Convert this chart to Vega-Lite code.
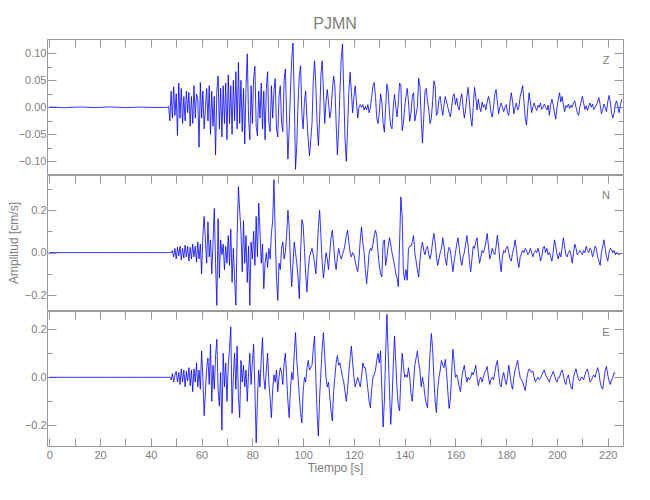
{
"$schema": "https://vega.github.io/schema/vega-lite/v6.json",
"padding": {"left": 7, "top": 15, "right": 5, "bottom": 5},
"spacing": 0,
"data": {"values": [
{"t":0,"Z":0.0005,"N":0,"E":0},{"t":6,"Z":-0.0008,"N":0,"E":0},{"t":12,"Z":0.0006,"N":0,"E":0},{"t":18,"Z":-0.0005,"N":0,"E":0},{"t":24,"Z":0.0008,"N":0,"E":0},{"t":30,"Z":-0.0006,"N":0,"E":0},{"t":36,"Z":0.0004,"N":0,"E":0},{"t":42,"Z":-0.0003,"N":0,"E":0},
{"t":46.5,"Z":0,"N":0,"E":0},{"t":47,"Z":0.002,"N":0,"E":0},{"t":47.5,"Z":-0.025,"N":0.001,"E":0.001},{"t":48,"Z":0.03,"N":-0.002,"E":-0.01},{"t":48.5,"Z":-0.02,"N":0.01,"E":0.015},{"t":49,"Z":0.038,"N":-0.02,"E":-0.02},{"t":49.5,"Z":-0.015,"N":0.02,"E":0.01},{"t":50,"Z":0.025,"N":-0.03,"E":0.025},{"t":50.5,"Z":-0.052,"N":0.025,"E":-0.02},{"t":51,"Z":0.045,"N":-0.015,"E":0.02},{"t":51.5,"Z":-0.02,"N":0.03,"E":-0.03},{"t":52,"Z":0.035,"N":-0.035,"E":0.035},{"t":52.5,"Z":-0.03,"N":0.02,"E":-0.02},{"t":53,"Z":0.02,"N":-0.025,"E":0.03},{"t":53.5,"Z":-0.025,"N":0.035,"E":-0.04},{"t":54,"Z":0.03,"N":-0.02,"E":0.025},{"t":54.5,"Z":-0.01,"N":0.03,"E":-0.015},{"t":55,"Z":0.028,"N":-0.04,"E":0.04},{"t":55.5,"Z":-0.035,"N":0.025,"E":-0.035},{"t":56,"Z":0.02,"N":-0.03,"E":0.03},{"t":56.5,"Z":-0.03,"N":0.04,"E":-0.06},{"t":57,"Z":0.04,"N":-0.02,"E":0.035},{"t":57.5,"Z":-0.02,"N":0.03,"E":-0.02},{"t":58,"Z":0.025,"N":-0.045,"E":0.06},{"t":58.5,"Z":0.015,"N":0.05,"E":-0.04},{"t":59,"Z":-0.074,"N":-0.03,"E":0.03},{"t":59.5,"Z":0.046,"N":0.04,"E":-0.05},{"t":60,"Z":-0.02,"N":-0.1,"E":0.11},{"t":60.5,"Z":0.03,"N":0.08,"E":0},{"t":61,"Z":-0.04,"N":0.17,"E":-0.16},
{"t":62,"Z":0.035,"N":-0.05,"E":0.04},{"t":62.5,"Z":-0.025,"N":0.145,"E":0.08},{"t":63,"Z":0.04,"N":-0.02,"E":-0.03},{"t":63.5,"Z":-0.05,"N":0.06,"E":0.137},{"t":64,"Z":0.03,"N":-0.1,"E":-0.1},{"t":64.5,"Z":-0.035,"N":0.05,"E":0.05},{"t":65,"Z":0.02,"N":0.207,"E":-0.05},{"t":65.5,"Z":-0.088,"N":-0.05,"E":0.09},{"t":66,"Z":0.03,"N":-0.248,"E":0.158},{"t":66.5,"Z":0.058,"N":0.16,"E":-0.05},{"t":67,"Z":-0.04,"N":-0.12,"E":-0.12},{"t":67.5,"Z":0.035,"N":0.06,"E":0.02},{"t":68,"Z":-0.055,"N":-0.01,"E":-0.22},{"t":68.5,"Z":0.04,"N":0.04,"E":0.1},{"t":69,"Z":-0.03,"N":-0.08,"E":-0.04},{"t":69.5,"Z":0.045,"N":0.03,"E":0.06},{"t":70,"Z":-0.06,"N":-0.05,"E":-0.1},{"t":70.5,"Z":0.06,"N":0.08,"E":0.05},{"t":71,"Z":-0.03,"N":-0.06,"E":0.12},{"t":71.5,"Z":0.04,"N":0.11,"E":0.21},{"t":72,"Z":-0.05,"N":-0.14,"E":-0.15},{"t":72.5,"Z":0.05,"N":0.02,"E":0},{"t":73,"Z":-0.025,"N":-0.12,"E":0.1},{"t":73.5,"Z":0.066,"N":-0.248,"E":-0.05},{"t":74,"Z":-0.04,"N":0.08,"E":0.13},{"t":74.5,"Z":0.083,"N":0.31,"E":-0.08},{"t":75,"Z":-0.03,"N":0.2,"E":-0.168},{"t":75.5,"Z":0.05,"N":0.1,"E":0.07},{"t":76,"Z":-0.045,"N":-0.09,"E":-0.02},{"t":76.5,"Z":0.035,"N":0.15,"E":0.05},{"t":77,"Z":-0.068,"N":-0.05,"E":-0.04},{"t":77.5,"Z":0.04,"N":0.08,"E":0.03},{"t":78,"Z":0.099,"N":-0.14,"E":-0.1},{"t":78.5,"Z":-0.02,"N":0.03,"E":0.02},{"t":79,"Z":-0.06,"N":-0.248,"E":0.1},{"t":79.5,"Z":0.04,"N":0.05,"E":-0.03},{"t":80,"Z":-0.03,"N":-0.03,"E":0.06},{"t":80.5,"Z":0.055,"N":0.1,"E":0.137},{"t":81,"Z":0.076,"N":-0.06,"E":-0.05},{"t":81.5,"Z":-0.035,"N":0.17,"E":-0.272},{"t":82,"Z":-0.053,"N":-0.02,"E":-0.09},{"t":82.5,"Z":0.03,"N":0.233,"E":0.03},{"t":83,"Z":-0.02,"N":0.1,"E":-0.04},{"t":83.5,"Z":0.045,"N":-0.05,"E":0.08},{"t":84,"Z":-0.04,"N":0.04,"E":0.165},{"t":84.5,"Z":0.03,"N":-0.17,"E":0},{"t":85,"Z":-0.06,"N":-0.05,"E":-0.05},{"t":85.5,"Z":0.035,"N":0,"E":0.03},{"t":86,"Z":0.066,"N":-0.07,"E":0.1},{"t":86.5,"Z":-0.03,"N":0.02,"E":-0.02},{"t":87,"Z":-0.045,"N":-0.03,"E":-0.09},{"t":87.5,"Z":0.04,"N":0.09,"E":-0.168},{"t":88,"Z":-0.02,"N":0.15,"E":-0.05},{"t":88.5,"Z":0.03,"N":0.343,"E":0.01},{"t":89,"Z":0.053,"N":0.09,"E":-0.02},{"t":89.5,"Z":-0.04,"N":-0.12,"E":0.03},{"t":90,"Z":-0.055,"N":-0.225,"E":-0.06},{"t":90.5,"Z":0.02,"N":-0.05,"E":0},{"t":91,"Z":0.04,"N":-0.08,"E":0.04},{"t":91.5,"Z":-0.03,"N":0.02,"E":0.02},{"t":92,"Z":-0.045,"N":0.05,"E":-0.03},{"t":92.5,"Z":0.05,"N":-0.03,"E":0.06},{"t":93,"Z":0.071,"N":0,"E":0.1},{"t":93.5,"Z":-0.02,"N":0.08,"E":0},{"t":94,"Z":-0.096,"N":0.2,"E":-0.1},{"t":94.5,"Z":-0.04,"N":0.12,"E":-0.168},{"t":95,"Z":0.03,"N":-0.05,"E":-0.05},{"t":95.5,"Z":0.09,"N":-0.16,"E":0.02},{"t":96,"Z":0.119,"N":-0.05,"E":-0.01},{"t":96.5,"Z":0.02,"N":0.05,"E":0.1},{"t":97,"Z":-0.115,"N":0,"E":0.186},{"t":97.5,"Z":-0.07,"N":-0.05,"E":0.07},{"t":98,"Z":0.01,"N":-0.12,"E":0},{"t":98.5,"Z":0.06,"N":-0.217,"E":-0.08},{"t":99,"Z":0.077,"N":0,"E":-0.15},{"t":99.5,"Z":-0.01,"N":0.155,"E":-0.19},{"t":100,"Z":-0.04,"N":0.13,"E":-0.06},{"t":100.5,"Z":0.01,"N":0.02,"E":0},{"t":101,"Z":0.03,"N":-0.1,"E":-0.02},{"t":101.5,"Z":-0.02,"N":-0.185,"E":0.04},{"t":102,"Z":-0.06,"N":-0.08,"E":0.07},{"t":102.5,"Z":-0.09,"N":-0.02,"E":0.03},
{"t":103.5,"Z":-0.03,"N":0.02,"E":0.05},{"t":104,"Z":0.05,"N":-0.01,"E":0.12},{"t":104.5,"Z":0.086,"N":-0.05,"E":0.172},{"t":105,"Z":0.04,"N":-0.1,"E":0},{"t":105.5,"Z":-0.03,"N":0,"E":-0.15},{"t":106,"Z":-0.071,"N":0.12,"E":-0.245},{"t":106.5,"Z":-0.02,"N":0.2,"E":-0.08},{"t":107,"Z":0.06,"N":0.08,"E":0.02},{"t":107.5,"Z":0.086,"N":-0.05,"E":0.12},{"t":108,"Z":0.03,"N":-0.12,"E":0.186},{"t":108.5,"Z":-0.03,"N":-0.06,"E":0.09},{"t":109,"Z":0.01,"N":0,"E":0},{"t":109.5,"Z":0.033,"N":-0.03,"E":-0.04},{"t":110,"Z":0.01,"N":-0.08,"E":-0.02},{"t":110.5,"Z":-0.02,"N":0,"E":-0.08},{"t":111,"Z":-0.005,"N":0.07,"E":-0.14},{"t":111.5,"Z":0.03,"N":0.105,"E":-0.182},{"t":112,"Z":0.058,"N":0.04,"E":-0.06},{"t":112.5,"Z":0.04,"N":-0.04,"E":0},{"t":113,"Z":-0.03,"N":-0.08,"E":0.06},{"t":113.5,"Z":-0.088,"N":-0.02,"E":0.09},{"t":114,"Z":-0.04,"N":0.02,"E":0.05},{"t":114.5,"Z":0.03,"N":-0.01,"E":0.06},{"t":115,"Z":0.09,"N":-0.03,"E":0.03},{"t":115.5,"Z":0.117,"N":-0.01,"E":0},{"t":116,"Z":0.03,"N":0.01,"E":-0.02},{"t":116.5,"Z":-0.06,"N":0.04,"E":-0.06},{"t":117,"Z":-0.1,"N":0.08,"E":-0.1},{"t":117.5,"Z":-0.04,"N":0.105,"E":-0.05},{"t":118,"Z":0.03,"N":0.05,"E":0.02},{"t":118.5,"Z":0.065,"N":0,"E":0.08},{"t":119,"Z":0.03,"N":-0.02,"E":0.13},{"t":119.5,"Z":-0.01,"N":0,"E":0.06},{"t":120,"Z":0.02,"N":-0.01,"E":0},{"t":120.5,"Z":0.04,"N":-0.04,"E":-0.04},{"t":121,"Z":0.01,"N":-0.07,"E":-0.02},{"t":121.5,"Z":-0.02,"N":-0.09,"E":0},{"t":122,"Z":0,"N":-0.03,"E":-0.02},{"t":122.5,"Z":0.005,"N":0.06,"E":-0.04},{"t":123,"Z":0,"N":0.12,"E":0},{"t":123.5,"Z":0.005,"N":0.05,"E":0.06},{"t":124,"Z":-0.005,"N":0,"E":0.04},{"t":124.5,"Z":0.002,"N":-0.08,"E":0.04},{"t":125,"Z":-0.005,"N":-0.146,"E":0},{"t":125.5,"Z":0.005,"N":-0.08,"E":-0.05},{"t":126,"Z":-0.01,"N":0,"E":-0.1},{"t":126.5,"Z":0,"N":0.02,"E":-0.127},{"t":127,"Z":0.02,"N":0.01,"E":-0.05},{"t":127.5,"Z":0.04,"N":0.04,"E":0},{"t":128,"Z":0.046,"N":0.08,"E":0.01},{"t":128.5,"Z":0.02,"N":0.105,"E":0.03},{"t":129,"Z":-0.02,"N":0.08,"E":0.07},{"t":129.5,"Z":-0.03,"N":0,"E":0.1},{"t":130,"Z":-0.01,"N":-0.06,"E":0.06},{"t":130.5,"Z":0.025,"N":-0.1,"E":0.11},{"t":131,"Z":0.01,"N":-0.115,"E":-0.05},{"t":131.5,"Z":-0.03,"N":0.05,"E":-0.207},{"t":132,"Z":-0.046,"N":0.06,"E":-0.1},{"t":132.5,"Z":0,"N":-0.06,"E":0.1},{"t":133,"Z":0.043,"N":-0.02,"E":0.262},{"t":133.5,"Z":0.03,"N":0.03,"E":0.1},{"t":134,"Z":-0.01,"N":0.07,"E":-0.05},{"t":134.5,"Z":-0.035,"N":0.04,"E":-0.196},{"t":135,"Z":-0.04,"N":0,"E":-0.1},{"t":135.5,"Z":0,"N":-0.03,"E":0.05},{"t":136,"Z":0.024,"N":-0.06,"E":0.172},{"t":136.5,"Z":0,"N":-0.1,"E":0.06},{"t":137,"Z":-0.018,"N":-0.12,"E":-0.05},{"t":137.5,"Z":0.01,"N":-0.16,"E":-0.12},{"t":138,"Z":0.045,"N":0.05,"E":-0.14},{"t":138.5,"Z":0.04,"N":0.262,"E":0},{"t":139,"Z":-0.043,"N":0.17,"E":0.1},{"t":139.5,"Z":-0.03,"N":-0.09,"E":0.05},{"t":140,"Z":0,"N":-0.13,"E":0},{"t":140.5,"Z":0.02,"N":-0.08,"E":0.01},{"t":141,"Z":0.035,"N":-0.13,"E":0},{"t":141.5,"Z":0.01,"N":0.02,"E":0.04},{"t":142,"Z":-0.026,"N":0.03,"E":0},{"t":142.5,"Z":-0.01,"N":0.03,"E":-0.07},{"t":143,"Z":0.02,"N":0.05,"E":-0.1},{"t":143.5,"Z":0.027,"N":0.08,"E":-0.02},{"t":144,"Z":-0.025,"N":0,"E":0.05},
{"t":145,"Z":0,"N":-0.08,"E":0.11},{"t":145.5,"Z":0.054,"N":-0.115,"E":0.06},{"t":146,"Z":0.04,"N":-0.04,"E":0.03},{"t":146.5,"Z":-0.02,"N":0.02,"E":-0.04},{"t":147,"Z":-0.066,"N":0.05,"E":0},{"t":147.5,"Z":-0.02,"N":0.01,"E":-0.03},{"t":148,"Z":0.03,"N":-0.01,"E":-0.08},{"t":148.5,"Z":0.035,"N":0.02,"E":-0.11},{"t":149,"Z":0.01,"N":0.03,"E":-0.127},{"t":149.5,"Z":-0.005,"N":-0.01,"E":0},{"t":150,"Z":-0.03,"N":-0.03,"E":0.1},{"t":150.5,"Z":-0.02,"N":0,"E":0.182},{"t":151,"Z":0.01,"N":0.05,"E":0.12},{"t":151.5,"Z":0.049,"N":0.09,"E":0},{"t":152,"Z":0.04,"N":0.05,"E":-0.1},{"t":152.5,"Z":-0.015,"N":-0.02,"E":-0.147},{"t":153,"Z":-0.01,"N":-0.06,"E":-0.05},{"t":153.5,"Z":0.015,"N":-0.03,"E":0},{"t":154,"Z":0.02,"N":0,"E":0.03},{"t":154.5,"Z":0,"N":0.02,"E":0.07},{"t":155,"Z":-0.015,"N":0.07,"E":0.05},{"t":155.5,"Z":0.005,"N":0.03,"E":0.04},{"t":156,"Z":0.02,"N":-0.03,"E":0.075},{"t":156.5,"Z":0.01,"N":-0.06,"E":0.02},{"t":157,"Z":0,"N":0,"E":-0.06},{"t":157.5,"Z":-0.01,"N":0.025,"E":-0.13},{"t":158,"Z":-0.018,"N":0.01,"E":-0.09},{"t":158.5,"Z":0,"N":-0.04,"E":0.02},{"t":159,"Z":0.02,"N":-0.09,"E":0.117},{"t":159.5,"Z":0.025,"N":-0.04,"E":0.06},{"t":160,"Z":0.005,"N":0,"E":0},{"t":160.5,"Z":0.017,"N":0.04,"E":0.01},{"t":161,"Z":0,"N":0.07,"E":-0.01},{"t":161.5,"Z":-0.005,"N":0.02,"E":-0.04},{"t":162,"Z":0.015,"N":-0.03,"E":-0.06},{"t":162.5,"Z":0.025,"N":-0.06,"E":0},{"t":163,"Z":0,"N":-0.02,"E":0.03},{"t":163.5,"Z":-0.02,"N":0,"E":0.05},{"t":164,"Z":-0.005,"N":0.04,"E":0.01},{"t":164.5,"Z":0.02,"N":0.08,"E":-0.02},{"t":165,"Z":0.037,"N":0.03,"E":0},{"t":165.5,"Z":0.01,"N":-0.04,"E":-0.01},{"t":166,"Z":-0.02,"N":-0.09,"E":0},{"t":166.5,"Z":-0.035,"N":-0.03,"E":0.02},{"t":167,"Z":0,"N":0.03,"E":0.01},{"t":167.5,"Z":0.037,"N":0.02,"E":0.03},{"t":168,"Z":0.02,"N":0.05,"E":0.05},{"t":168.5,"Z":-0.005,"N":0.07,"E":0},{"t":169,"Z":0.015,"N":0,"E":-0.035},{"t":169.5,"Z":0,"N":-0.05,"E":-0.01},{"t":170,"Z":-0.008,"N":-0.02,"E":0},{"t":170.5,"Z":0.01,"N":0.01,"E":-0.02},{"t":171,"Z":0,"N":0,"E":0},{"t":171.5,"Z":0.005,"N":0.02,"E":0.02},{"t":172,"Z":-0.005,"N":0.05,"E":0.03},{"t":172.5,"Z":0.01,"N":0.09,"E":0.045},{"t":173,"Z":0.02,"N":0.03,"E":0},{"t":173.5,"Z":0.01,"N":-0.03,"E":-0.03},{"t":174,"Z":-0.01,"N":-0.01,"E":-0.01},{"t":174.5,"Z":-0.018,"N":0.02,"E":0},{"t":175,"Z":0,"N":0,"E":-0.01},{"t":175.5,"Z":0.025,"N":-0.01,"E":0.02},{"t":176,"Z":0.033,"N":0.03,"E":0.05},{"t":176.5,"Z":0.01,"N":0.08,"E":0.07},{"t":177,"Z":-0.012,"N":0.03,"E":0.02},{"t":177.5,"Z":0,"N":-0.04,"E":-0.03},{"t":178,"Z":0.008,"N":-0.09,"E":-0.04},{"t":178.5,"Z":0,"N":-0.02,"E":0},{"t":179,"Z":-0.008,"N":0.01,"E":0.02},{"t":179.5,"Z":0,"N":0,"E":-0.01},{"t":180,"Z":0.005,"N":0.02,"E":-0.03},{"t":180.5,"Z":-0.01,"N":0.03,"E":0},{"t":181,"Z":-0.015,"N":0,"E":0.05},{"t":181.5,"Z":0.01,"N":-0.03,"E":0.01},{"t":182,"Z":0.027,"N":-0.04,"E":-0.03},{"t":182.5,"Z":0.01,"N":0,"E":-0.05},{"t":183,"Z":-0.012,"N":0.02,"E":0},{"t":183.5,"Z":0,"N":0.06,"E":0.03},{"t":184,"Z":0.008,"N":0.02,"E":0.05},{"t":184.5,"Z":-0.005,"N":-0.04,"E":0.07},{"t":185,"Z":0,"N":-0.07,"E":0.03},{"t":185.5,"Z":0.02,"N":-0.02,"E":0},
{"t":186.5,"Z":0.04,"N":0.01,"E":-0.02},{"t":187,"Z":0.01,"N":0,"E":-0.04},{"t":187.5,"Z":-0.02,"N":0.02,"E":-0.055},{"t":188,"Z":-0.033,"N":0.01,"E":-0.01},{"t":188.5,"Z":0,"N":-0.01,"E":0.02},{"t":189,"Z":0.027,"N":0,"E":0.035},{"t":189.5,"Z":0.01,"N":0.02,"E":0.03},{"t":190,"Z":-0.01,"N":0,"E":0.02},{"t":190.5,"Z":0,"N":-0.02,"E":0.025},{"t":191,"Z":0.008,"N":0,"E":0},{"t":191.5,"Z":0,"N":0.01,"E":-0.02},{"t":192,"Z":-0.006,"N":0,"E":-0.01},{"t":192.5,"Z":0.004,"N":0.02,"E":0},{"t":193,"Z":0,"N":0,"E":-0.01},{"t":193.5,"Z":0.008,"N":-0.04,"E":-0.005},{"t":194,"Z":-0.004,"N":-0.02,"E":0.01},{"t":194.5,"Z":0,"N":0.02,"E":0.02},{"t":195,"Z":0.006,"N":0.03,"E":0.03},{"t":195.5,"Z":0,"N":0,"E":0.01},{"t":196,"Z":-0.005,"N":0.02,"E":0},{"t":196.5,"Z":0.004,"N":-0.01,"E":-0.01},{"t":197,"Z":-0.015,"N":0,"E":-0.02},{"t":197.5,"Z":0.005,"N":-0.02,"E":0},{"t":198,"Z":0.015,"N":-0.04,"E":0.01},{"t":198.5,"Z":0.005,"N":0,"E":0.025},{"t":199,"Z":-0.01,"N":0.06,"E":0.01},{"t":199.5,"Z":-0.022,"N":0.03,"E":-0.01},{"t":200,"Z":0,"N":-0.01,"E":-0.02},{"t":200.5,"Z":0.015,"N":-0.03,"E":0},{"t":201,"Z":0.027,"N":0,"E":0},{"t":201.5,"Z":0.01,"N":-0.02,"E":0.02},{"t":202,"Z":0.02,"N":0.02,"E":0.03},{"t":202.5,"Z":0.005,"N":0.07,"E":0.01},{"t":203,"Z":-0.008,"N":0.03,"E":-0.02},{"t":203.5,"Z":0.003,"N":-0.01,"E":-0.03},{"t":204,"Z":0,"N":-0.02,"E":0},{"t":204.5,"Z":0.006,"N":0,"E":0.01},{"t":205,"Z":-0.002,"N":0.01,"E":-0.02},{"t":205.5,"Z":0.004,"N":-0.01,"E":-0.04},{"t":206,"Z":0,"N":-0.05,"E":-0.05},{"t":206.5,"Z":0.008,"N":0,"E":0},{"t":207,"Z":0.012,"N":0.04,"E":0.02},{"t":207.5,"Z":0,"N":0.02,"E":0.035},{"t":208,"Z":-0.01,"N":-0.01,"E":0.01},{"t":208.5,"Z":-0.015,"N":0,"E":-0.01},{"t":209,"Z":0,"N":0.01,"E":-0.015},{"t":209.5,"Z":0.01,"N":0,"E":0},{"t":210,"Z":0.02,"N":-0.01,"E":0},{"t":210.5,"Z":0.008,"N":0.01,"E":-0.01},{"t":211,"Z":-0.004,"N":0,"E":0.01},{"t":211.5,"Z":0.003,"N":0.03,"E":0.025},{"t":212,"Z":-0.006,"N":0.01,"E":0.035},{"t":212.5,"Z":0.002,"N":0,"E":0.01},{"t":213,"Z":0.008,"N":0.02,"E":-0.02},{"t":213.5,"Z":0,"N":0.01,"E":-0.015},{"t":214,"Z":0.006,"N":-0.02,"E":0},{"t":214.5,"Z":-0.004,"N":0,"E":0.01},{"t":215,"Z":0,"N":0.03,"E":0},{"t":215.5,"Z":0.004,"N":0.02,"E":0.02},{"t":216,"Z":0.01,"N":-0.02,"E":0.04},{"t":216.5,"Z":0.018,"N":-0.04,"E":0.02},{"t":217,"Z":0.005,"N":-0.06,"E":-0.02},{"t":217.5,"Z":-0.012,"N":0,"E":-0.04},{"t":218,"Z":-0.004,"N":0.03,"E":-0.05},{"t":218.5,"Z":0.006,"N":0.06,"E":-0.01},{"t":219,"Z":0,"N":0.02,"E":0.03},{"t":219.5,"Z":-0.008,"N":-0.02,"E":0.045},{"t":220,"Z":0.01,"N":-0.04,"E":0.01},{"t":220.5,"Z":0.022,"N":0,"E":-0.015},{"t":221,"Z":0.01,"N":0.02,"E":-0.03},{"t":221.5,"Z":-0.01,"N":0.015,"E":-0.01},{"t":222,"Z":-0.02,"N":0,"E":0},{"t":222.5,"Z":-0.01,"N":0.01,"E":0.02},{"t":223,"Z":0.006,"N":-0.01,"E":0.015},{"t":223.5,"Z":0.012,"N":0,"E":null},{"t":224,"Z":0,"N":-0.005,"E":null},{"t":224.5,"Z":-0.01,"N":-0.01,"E":null},{"t":225,"Z":0.005,"N":-0.005,"E":null},{"t":225.5,"Z":0.015,"N":null,"E":null}
]},
"transform": [{"fold": ["Z", "N", "E"], "as": ["comp", "amp"]}],
"vconcat": [
{
 "width": 576, "height": 135,
 "title": {"text": "PJMN", "anchor": "middle", "frame": "group", "offset": 7},
 "layer": [
  {"transform": [{"filter": "datum.comp === 'Z'"}],
   "mark": {"type": "line", "color": "#0000ff", "strokeWidth": 0.8, "clip": true},
   "encoding": {
    "x": {"field": "t", "type": "quantitative", "scale": {"domain": [-0.9, 226], "nice": false, "zero": false},
          "axis": {"orient": "bottom", "values": [0,10,20,30,40,50,60,70,80,90,100,110,120,130,140,150,160,170,180,190,200,210,220], "labels": false, "ticks": false, "title": null}},
    "y": {"field": "amp", "type": "quantitative", "scale": {"domain": [-0.1235, 0.1265], "nice": false, "zero": false},
          "axis": {"orient": "left", "values": [-0.1,-0.075,-0.05,-0.025,0,0.025,0.05,0.075,0.1], "title": null, "labelPadding": 10,
                   "labelExpr": "abs(datum.value*20-round(datum.value*20))<0.01 ? format(datum.value, '.2f') : ''",
                   "tickSize": {"condition": {"test": "abs(datum.value*20-round(datum.value*20))<0.01", "value": -9}, "value": -5}}}
   }},
  {"data": {"values": [{"label": "Z"}]},
   "mark": {"type": "text", "fontSize": 11, "color": "#808080"},
   "encoding": {
    "x": {"datum": 219.3, "type": "quantitative", "axis": {"orient": "top", "values": [0,10,20,30,40,50,60,70,80,90,100,110,120,130,140,150,160,170,180,190,200,210,220], "labels": false, "tickSize": -8, "title": null}},
    "y": {"datum": 0.086, "type": "quantitative", "axis": {"orient": "right", "values": [-0.1,-0.075,-0.05,-0.025,0,0.025,0.05,0.075,0.1], "labels": false, "title": null,
          "tickSize": {"condition": {"test": "abs(datum.value*20-round(datum.value*20))<0.01", "value": -9}, "value": -5}}},
    "text": {"field": "label"}
   }}
 ],
 "resolve": {"axis": {"x": "independent", "y": "independent"}}
},
{
 "width": 576, "height": 135,
 "layer": [
  {"transform": [{"filter": "datum.comp === 'N'"}],
   "mark": {"type": "line", "color": "#0000ff", "strokeWidth": 0.8, "clip": true},
   "encoding": {
    "x": {"field": "t", "type": "quantitative", "scale": {"domain": [-0.9, 226], "nice": false, "zero": false},
          "axis": {"orient": "bottom", "values": [0,10,20,30,40,50,60,70,80,90,100,110,120,130,140,150,160,170,180,190,200,210,220], "labels": false, "ticks": false, "title": null}},
    "y": {"field": "amp", "type": "quantitative", "scale": {"domain": [-0.27, 0.365], "nice": false, "zero": false},
          "axis": {"orient": "left", "values": [-0.2,-0.1,0,0.1,0.2,0.3], "title": "Amplitud [cm/s]", "labelPadding": 10,
                   "labelExpr": "abs(datum.value*5-round(datum.value*5))<0.01 ? format(datum.value, '.1f') : ''",
                   "tickSize": {"condition": {"test": "abs(datum.value*5-round(datum.value*5))<0.01", "value": -9}, "value": -5}}}
   }},
  {"data": {"values": [{"label": "N"}]},
   "mark": {"type": "text", "fontSize": 11, "color": "#808080"},
   "encoding": {
    "x": {"datum": 219.3, "type": "quantitative", "axis": {"orient": "top", "values": [0,10,20,30,40,50,60,70,80,90,100,110,120,130,140,150,160,170,180,190,200,210,220], "labels": false, "tickSize": -8, "title": null}},
    "y": {"datum": 0.265, "type": "quantitative", "axis": {"orient": "right", "values": [-0.2,-0.1,0,0.1,0.2,0.3], "labels": false, "title": null,
          "tickSize": {"condition": {"test": "abs(datum.value*5-round(datum.value*5))<0.01", "value": -9}, "value": -5}}},
    "text": {"field": "label"}
   }}
 ],
 "resolve": {"axis": {"x": "independent", "y": "independent"}}
},
{
 "width": 576, "height": 135,
 "layer": [
  {"transform": [{"filter": "datum.comp === 'E'"}],
   "mark": {"type": "line", "color": "#0000ff", "strokeWidth": 0.8, "clip": true},
   "encoding": {
    "x": {"field": "t", "type": "quantitative", "scale": {"domain": [-0.9, 226], "nice": false, "zero": false},
          "axis": {"orient": "bottom", "values": [0,10,20,30,40,50,60,70,80,90,100,110,120,130,140,150,160,170,180,190,200,210,220], "title": "Tiempo [s]", "tickSize": -8, "labelPadding": 11, "titlePadding": 2,
                   "labelExpr": "datum.value % 20 === 0 ? datum.label : ''"}},
    "y": {"field": "amp", "type": "quantitative", "scale": {"domain": [-0.286, 0.276], "nice": false, "zero": false},
          "axis": {"orient": "left", "values": [-0.2,-0.1,0,0.1,0.2], "title": null, "labelPadding": 10,
                   "labelExpr": "abs(datum.value*5-round(datum.value*5))<0.01 ? format(datum.value, '.1f') : ''",
                   "tickSize": {"condition": {"test": "abs(datum.value*5-round(datum.value*5))<0.01", "value": -9}, "value": -5}}}
   }},
  {"data": {"values": [{"label": "E"}]},
   "mark": {"type": "text", "fontSize": 11, "color": "#808080"},
   "encoding": {
    "x": {"datum": 219.3, "type": "quantitative", "axis": {"orient": "top", "values": [0,10,20,30,40,50,60,70,80,90,100,110,120,130,140,150,160,170,180,190,200,210,220], "labels": false, "tickSize": -8, "title": null}},
    "y": {"datum": 0.186, "type": "quantitative", "axis": {"orient": "right", "values": [-0.2,-0.1,0,0.1,0.2], "labels": false, "title": null,
          "tickSize": {"condition": {"test": "abs(datum.value*5-round(datum.value*5))<0.01", "value": -9}, "value": -5}}},
    "text": {"field": "label"}
   }}
 ],
 "resolve": {"axis": {"x": "independent", "y": "independent"}}
}
],
"config": {
 "view": {"stroke": null},
 "font": "Liberation Sans",
 "axis": {"domainColor": "#999999", "tickColor": "#999999", "labelColor": "#808080", "titleColor": "#808080", "labelFontSize": 11, "titleFontSize": 12, "titleFontWeight": "normal", "grid": false, "labelPadding": 2, "titlePadding": 4},
 "title": {"color": "#808080", "fontSize": 16, "fontWeight": "normal"}
}
}
